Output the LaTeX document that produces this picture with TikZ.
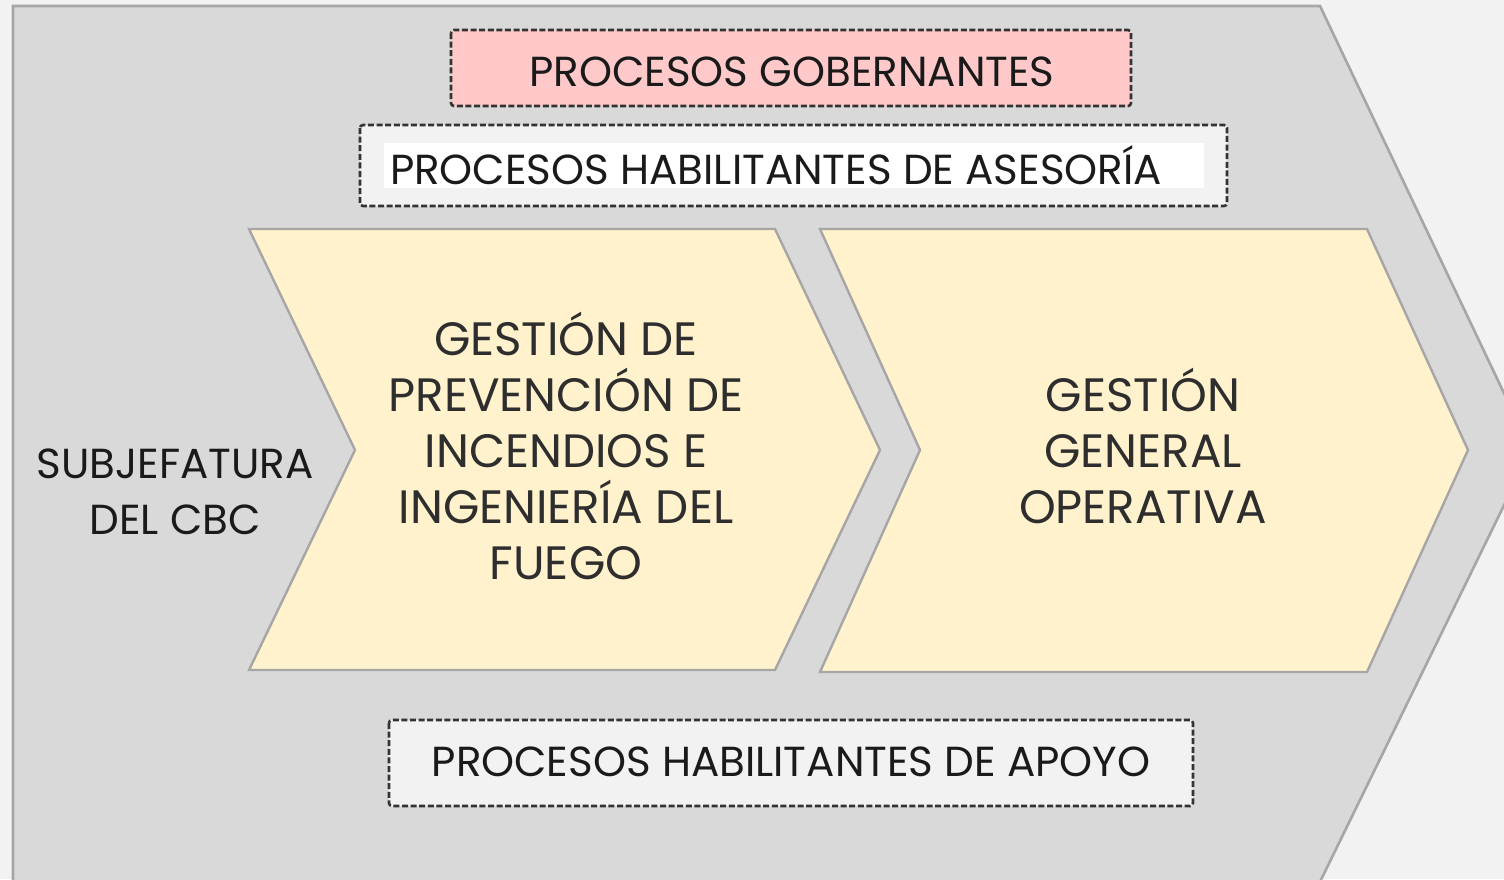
\documentclass[tikz,border=0pt]{standalone}
\usepackage{fontspec}
\setmainfont{Poppins}
\definecolor{pagebg}{HTML}{F2F2F2}
\definecolor{bigfill}{HTML}{D9D9D9}
\definecolor{edgegray}{HTML}{A6A6A6}
\definecolor{pinkfill}{HTML}{FFC9C9}
\definecolor{yellowfill}{HTML}{FFF2CC}
\definecolor{dashgray}{HTML}{333333}
\definecolor{txt}{HTML}{1A1A1A}
\definecolor{chevtxt}{HTML}{2E2E2E}
\begin{document}
\begin{tikzpicture}[x=0.5pt,y=-0.5pt,
  dashbox/.style={draw=dashgray,line width=1.3pt,dash pattern=on 3pt off 1.3pt,rounded corners=1.5pt},
  chev/.style={fill=yellowfill,draw=edgegray,line width=1.2pt,line join=miter},
  lbl/.style={text=txt,font=\fontsize{21}{28}\selectfont,align=center,inner sep=0pt},
  chevlbl/.style={text=chevtxt,font=\fontsize{23.4}{28}\selectfont,align=center,inner sep=0pt}]
\useasboundingbox (0,0) rectangle (1504,879);
\fill[pagebg] (0,0) rectangle (1504,879);
% big chevron
\begin{scope}
\clip (0,0) rectangle (1504,879);
\draw[fill=bigfill,draw=edgegray,line width=1.3pt] (13,885) -- (13,6) -- (1320,6) -- (1531,450) -- (1316,890);
\end{scope}
% top boxes
\draw[dashbox,fill=pinkfill] (451,30) rectangle (1131,106);
\node[lbl] (gob) at (792,72) {PROCESOS GOBERNANTES};
\draw[dashbox,fill=pagebg] (360,125) rectangle (1227,206);
\fill[white] (384,143) rectangle (1204,188);
\node[lbl] (ase) at (776,165) {PROCESOS HABILITANTES DE ASESORÍA};
% chevrons
\draw[chev] (249,229) -- (775,229) -- (880,450) -- (775,670) -- (249,670) -- (355,450) -- cycle;
\draw[chev] (820,229) -- (1367,229) -- (1468,450) -- (1367,672) -- (820,672) -- (920,450) -- cycle;
\node[lbl] (sub) at (175,492) {SUBJEFATURA\\DEL CBC};
\node[chevlbl] (prev) at (566,446) {GESTIÓN DE\\PREVENCIÓN DE\\INCENDIOS E\\INGENIERÍA DEL\\FUEGO};
\node[chevlbl] (gen) at (1143,446) {GESTIÓN\\GENERAL\\OPERATIVA};
% bottom box
\draw[dashbox,fill=pagebg] (389,720) rectangle (1193,806);
\node[lbl] (apo) at (791,762) {PROCESOS HABILITANTES DE APOYO};
\end{tikzpicture}
\end{document}
